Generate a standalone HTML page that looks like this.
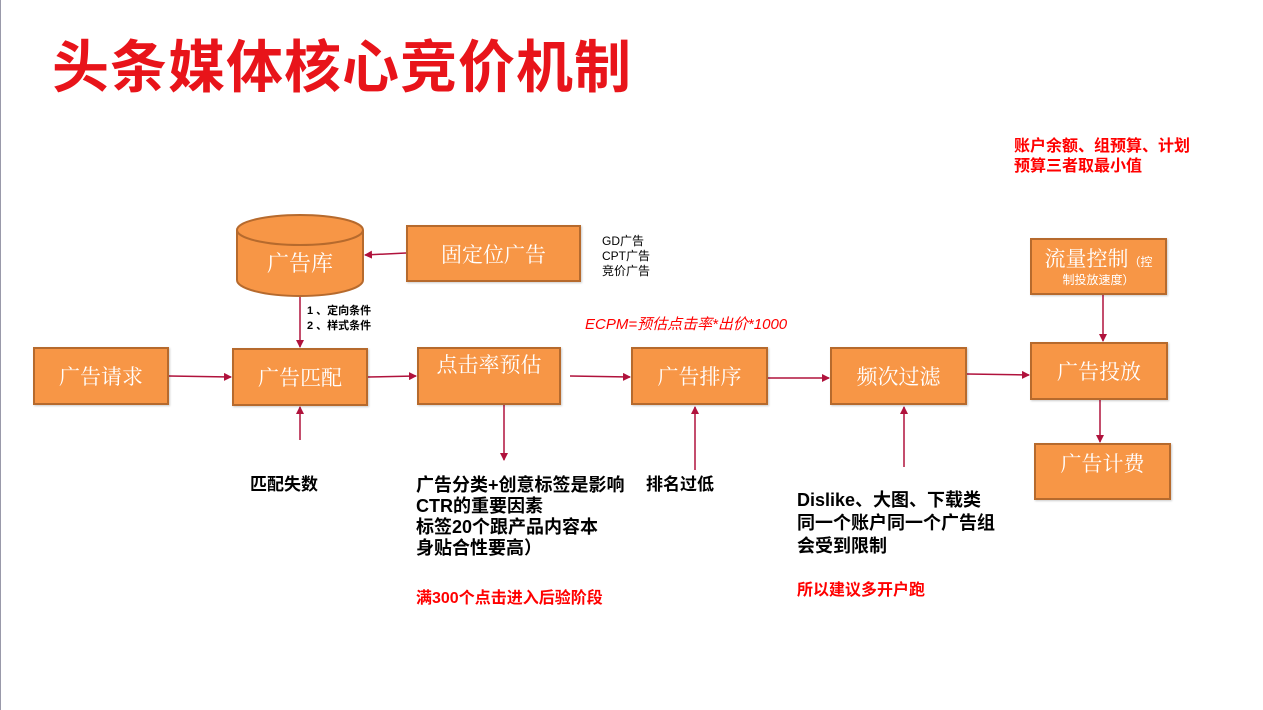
<!DOCTYPE html>
<html><head><meta charset="utf-8"><style>
body{margin:0;width:1263px;height:710px;background:#fff;position:relative;overflow:hidden;font-family:"Liberation Sans","Noto Sans CJK SC",sans-serif}
.a{position:absolute}
.b{position:absolute;background:#f79646;border:2px solid #b66a2d;box-sizing:border-box;color:#fff;font-family:"Noto Serif CJK SC",serif;font-size:21px;display:flex;align-items:center;justify-content:center;box-shadow:1px 1px 2px rgba(0,0,0,.2)}
.t{position:absolute;white-space:nowrap;font-weight:bold}
</style></head><body>
<div class="a" style="left:0;top:0;width:1px;height:710px;background:#99a"></div>
<div class="t" style="left:52px;top:22px;font-size:57px;color:#e8141a;font-family:'Noto Sans CJK SC',sans-serif;letter-spacing:1px">头条媒体核心竞价机制</div>
<div class="t" style="left:1014px;top:137px;font-size:16px;line-height:20px;color:#f00">账户余额、组预算、计划<br>预算三者取最小值</div>

<svg class="a" style="left:0;top:0" width="1263" height="710">
<defs><marker id="m" markerWidth="8" markerHeight="8" refX="7" refY="4" orient="auto" markerUnits="userSpaceOnUse"><path d="M0,0 L8,4 L0,8 z" fill="#b0123c"/></marker></defs>
<g stroke="#b0123c" stroke-width="1.5" fill="none" marker-end="url(#m)">
<line x1="169" y1="376" x2="231" y2="377"/>
<line x1="368" y1="377" x2="416" y2="376"/>
<line x1="570" y1="376" x2="630" y2="377"/>
<line x1="768" y1="378" x2="829" y2="378"/>
<line x1="967" y1="374" x2="1029" y2="375"/>
<line x1="406" y1="253" x2="365" y2="255"/>
<line x1="300" y1="296" x2="300" y2="347"/>
<line x1="300" y1="440" x2="300" y2="407"/>
<line x1="504" y1="405" x2="504" y2="460"/>
<line x1="695" y1="470" x2="695" y2="407"/>
<line x1="904" y1="467" x2="904" y2="407"/>
<line x1="1103" y1="295" x2="1103" y2="341"/>
<line x1="1100" y1="390" x2="1100" y2="442"/>
</g>
<path d="M237,230 L237,280 A63,16 0 0 0 363,280 L363,230" fill="#f79646" stroke="#b66a2d" stroke-width="2"/>
<ellipse cx="300" cy="230" rx="63" ry="15" fill="#f79646" stroke="#b66a2d" stroke-width="2"/>
<text x="300" y="271" fill="#fff" font-size="22" text-anchor="middle" font-family="Noto Serif CJK SC,serif">广告库</text>
</svg>

<div class="b" style="left:406px;top:225px;width:175px;height:57px">固定位广告</div>
<div class="b" style="left:33px;top:347px;width:136px;height:58px">广告请求</div>
<div class="b" style="left:232px;top:348px;width:136px;height:58px">广告匹配</div>
<div class="b" style="left:417px;top:347px;width:144px;height:58px;align-items:flex-start;padding-top:0">点击率预估</div>
<div class="b" style="left:631px;top:347px;width:137px;height:58px">广告排序</div>
<div class="b" style="left:830px;top:347px;width:137px;height:58px">频次过滤</div>
<div class="b" style="left:1030px;top:238px;width:137px;height:57px;flex-direction:column;line-height:22px"><div>流量控制<span style="font-size:12px;font-family:'Noto Sans CJK SC',sans-serif">（控</span></div><div style="font-size:12px;line-height:14px;font-family:'Noto Sans CJK SC',sans-serif">制投放速度）</div></div>
<div class="b" style="left:1030px;top:342px;width:138px;height:58px">广告投放</div>
<div class="b" style="left:1034px;top:443px;width:137px;height:57px;align-items:flex-start;padding-top:3px">广告计费</div>

<div class="a" style="left:602px;top:234px;font-size:12px;line-height:15px">GD广告<br>CPT广告<br>竞价广告</div>
<div class="t" style="left:307px;top:304px;font-size:11px;line-height:15px">1 、定向条件<br>2 、样式条件</div>
<div class="a" style="left:585px;top:313px;font-size:15px;color:#f00;font-style:italic;white-space:nowrap">ECPM=预估点击率*出价*1000</div>
<div class="t" style="left:250px;top:470px;font-size:17px">匹配失数</div>
<div class="t" style="left:416px;top:475px;font-size:18px;line-height:21px">广告分类+创意标签是影响<br>CTR的重要因素<br>标签20个跟产品内容本<br>身贴合性要高）</div>
<div class="t" style="left:416px;top:584px;font-size:16px;color:#f00">满300个点击进入后验阶段</div>
<div class="t" style="left:646px;top:470px;font-size:17px">排名过低</div>
<div class="t" style="left:797px;top:489px;font-size:18px;line-height:23px">Dislike、大图、下载类<br>同一个账户同一个广告组<br>会受到限制</div>
<div class="t" style="left:797px;top:576px;font-size:16px;color:#f00">所以建议多开户跑</div>
</body></html>
